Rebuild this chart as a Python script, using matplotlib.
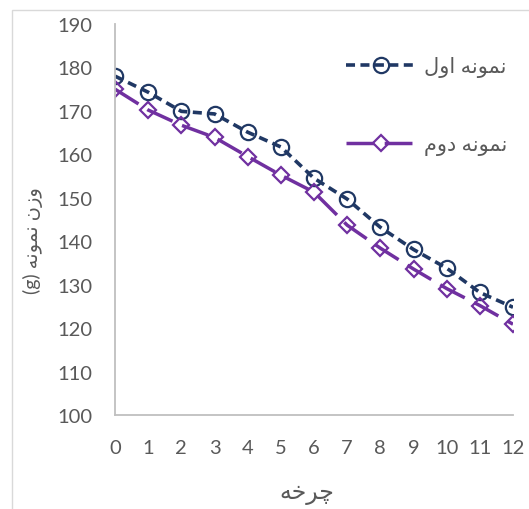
import matplotlib
matplotlib.use('Agg')
import matplotlib.pyplot as plt
from matplotlib.patches import Rectangle

# data
cycles = list(range(13))
sample1 = [178.0, 174.3, 169.9, 169.3, 165.1, 161.7, 154.5, 149.7, 143.2, 138.1, 133.8, 128.2, 124.8]
sample2 = [175.0, 170.2, 166.7, 163.9, 159.5, 155.2, 151.3, 143.7, 138.4, 133.6, 129.1, 125.2, 120.9]
yticks = list(range(100, 191, 10))

# matplotlib does no Arabic shaping, so labels are written with
# presentation forms in visual (left to right) order
label1 = '\ufedd\ufeed\ufe8d \ufeea\ufee7\ufeee\ufee4\ufee7'   # nomune avval
label2 = '\ufee1\ufeed\ufea9 \ufeea\ufee7\ufeee\ufee4\ufee7'   # nomune dovvom
ylab = '(g) \ufeea\ufee7\ufeee\ufee4\ufee7 \ufee5\ufeaf\ufeed'  # vazn nomune (g)
xlab = '\ufeea\ufea7\ufeae\ufb7c'                              # charkhe

plt.rcParams['font.family'] = ['Lato', 'DejaVu Sans']
gray = '#595959'

W, H = 529, 510
fig = plt.figure(figsize=(W / 100, H / 100), dpi=100)
ax = fig.add_axes([115 / W, 1 - 416 / H, (513 - 115) / W, (416 - 25) / H])

# chart area border (only top and left edges show)
fig.patches.append(Rectangle((12 / W, -0.1), 1.2, 1.1 - 11 / H,
                             transform=fig.transFigure, fill=False,
                             edgecolor='#D9D9D9', lw=1.0))

ax.plot(cycles, sample1, color='#203864', lw=2.6, dashes=(2.5, 1.5),
        marker='o', ms=11, mfc='none', mec='#203864', mew=1.6, label=label1)
ax.plot(cycles, sample2, color='#7030A0', lw=2.5, dashes=(8, 3),
        marker='D', ms=8.5, mfc='none', mec='#7030A0', mew=1.6, label=label2)

ax.set_xlim(0, 12)
ax.set_ylim(100, 190)
ax.set_xticks(cycles)
ax.set_yticks(yticks)
ax.tick_params(length=0, labelsize=14.5, labelcolor=gray)
ax.tick_params(axis='y', pad=16)
ax.tick_params(axis='x', pad=17)

for s in ['top', 'right']:
    ax.spines[s].set_visible(False)
for s in ['left', 'bottom']:
    ax.spines[s].set_color('#BFBFBF')
    ax.spines[s].set_linewidth(1.3)

fig.text(33 / W, 1 - 241 / H, ylab, rotation=90, ha='center', va='center',
         fontsize=14, color=gray)
fig.text(307 / W, 1 - 495 / H, xlab, ha='center', va='center',
         fontsize=17, color=gray)

leg = ax.legend(loc='upper left', bbox_to_anchor=(346 / W, 1 - 57 / H),
                bbox_transform=fig.transFigure, frameon=False, fontsize=15,
                handlelength=3.4, handletextpad=0.34, labelspacing=2.75,
                borderpad=0, borderaxespad=0)
for t in leg.get_texts():
    t.set_color(gray)

fig.savefig('out.png', dpi=100)
